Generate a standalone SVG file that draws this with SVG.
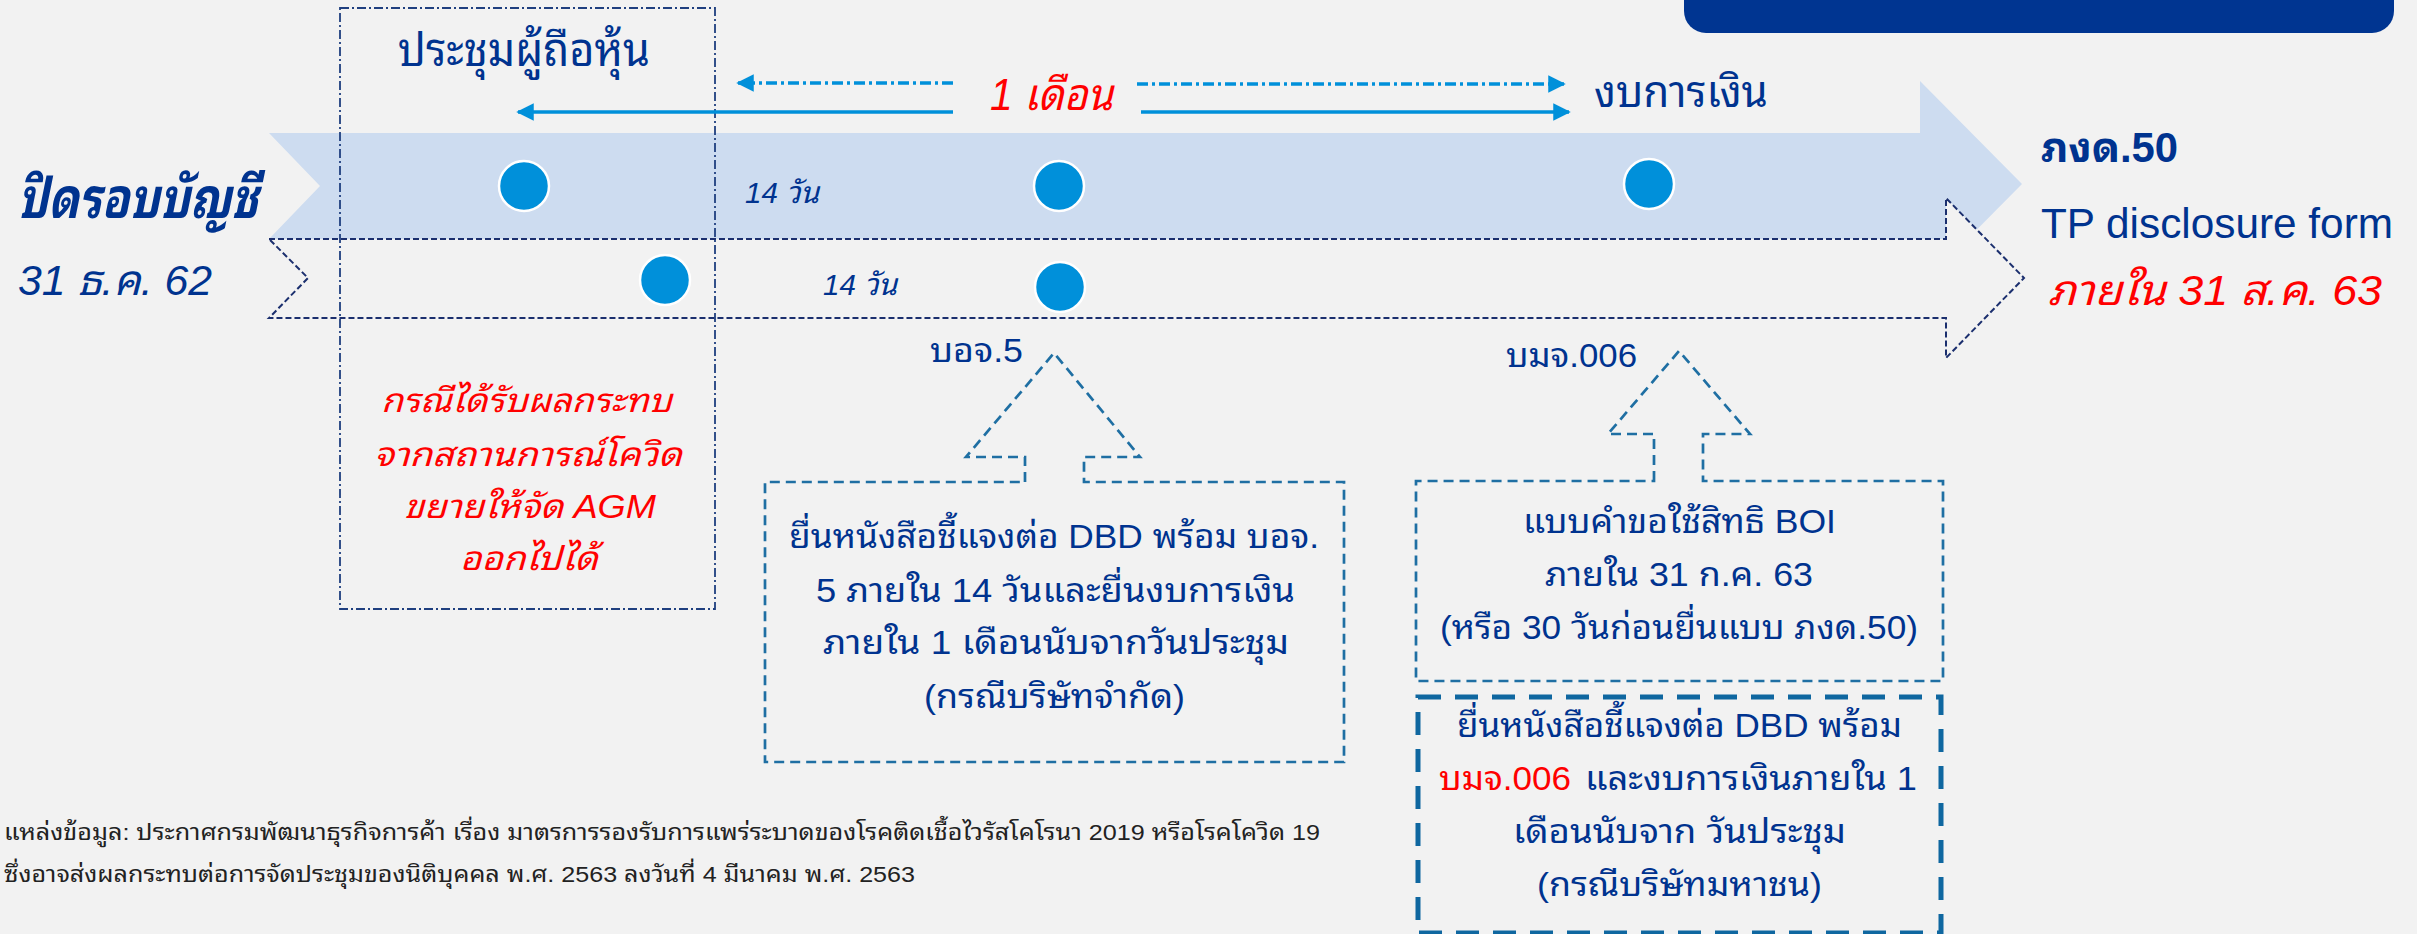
<svg xmlns="http://www.w3.org/2000/svg" width="2417" height="934" viewBox="0 0 2417 934">
<defs>
<style>
.th{font-family:'Liberation Sans','Noto Sans Thai Looped','Noto Sans Thai',sans-serif;}
.navy{fill:#00338f;}
.red{fill:#ff0000;}
.it{font-style:italic;}
.dot{fill:#0090da;stroke:#ffffff;stroke-width:2.5;}
.callout{fill:none;stroke:#1f6fa3;stroke-width:2.7;stroke-dasharray:10 6;}
.arr{stroke:#0090da;stroke-width:3.5;fill:none;}
.arrdd{stroke:#0090da;stroke-width:3.5;fill:none;stroke-dasharray:11 4 3 4;}
</style>
<marker id="ah" viewBox="0 0 10 10" refX="9" refY="5" markerWidth="5" markerHeight="5" orient="auto-start-reverse" markerUnits="strokeWidth">
<path d="M0,0 L10,5 L0,10 z" fill="#0090da"/>
</marker>
</defs>
<rect x="0" y="0" width="2417" height="934" fill="#f2f2f2"/>
<rect id="topbar" x="1684" y="-40" width="710" height="73" rx="22" ry="22" fill="#003591"/>

<g id="timeline">
<polygon points="269,133 1920,133 1920,81 2022,184 1920,287 1920,239 269,239 320,186" fill="#cddcf0"/>
<polygon points="269,239 1946,239 1946,198 2024,278 1946,358 1946,318 269,318 308,278" fill="#f2f2f2" stroke="#1b2f6e" stroke-width="2" stroke-dasharray="6 3"/>
</g>

<g id="meeting">
<rect x="340" y="8" width="375" height="601" fill="none" stroke="#1f3f7f" stroke-width="1.8" stroke-dasharray="9 3 2 3"/>
<text class="th navy" x="398" y="66" font-size="46" textLength="252" lengthAdjust="spacingAndGlyphs">ประชุมผู้ถือหุ้น</text>
<g class="th red it" font-size="33">
<text x="381" y="412" textLength="291" lengthAdjust="spacingAndGlyphs">กรณีได้รับผลกระทบ</text>
<text x="374" y="466" textLength="308" lengthAdjust="spacingAndGlyphs">จากสถานการณ์โควิด</text>
<text x="404" y="518" textLength="252" lengthAdjust="spacingAndGlyphs">ขยายให้จัด AGM</text>
<text x="460" y="570" textLength="138" lengthAdjust="spacingAndGlyphs">ออกไปได้</text>
</g>
</g>

<g id="connectors">
<line class="arrdd" x1="953" y1="83" x2="738" y2="83" marker-end="url(#ah)"/>
<line class="arr" x1="953" y1="112" x2="518" y2="112" marker-end="url(#ah)"/>
<line class="arrdd" x1="1137" y1="84" x2="1564" y2="84" marker-end="url(#ah)"/>
<line class="arr" x1="1141" y1="112" x2="1569" y2="112" marker-end="url(#ah)"/>
</g>

<g id="month-label"><text class="th red it" x="990" y="110" font-size="44" textLength="123" lengthAdjust="spacingAndGlyphs">1 เดือน</text></g>

<g id="dots">
<circle class="dot" cx="524" cy="186" r="25"/>
<circle class="dot" cx="665" cy="280" r="25"/>
<circle class="dot" cx="1059" cy="186" r="25"/>
<circle class="dot" cx="1060" cy="287" r="25"/>
<circle class="dot" cx="1649" cy="184" r="25"/>
</g>

<g id="days1"><text class="th navy it" x="745" y="203" font-size="30" textLength="74" lengthAdjust="spacingAndGlyphs">14 วัน</text></g>
<g id="days2"><text class="th navy it" x="823" y="295" font-size="30" textLength="74" lengthAdjust="spacingAndGlyphs">14 วัน</text></g>

<g id="close"><text class="th navy it" x="18" y="218" font-size="56" font-weight="bold" textLength="240" lengthAdjust="spacingAndGlyphs">ปิดรอบบัญชี</text>
<text class="th navy it" x="18" y="295" font-size="42" textLength="194" lengthAdjust="spacingAndGlyphs">31 ธ.ค. 62</text></g>

<g id="fs"><text class="th navy" x="1594" y="107" font-size="44" textLength="174" lengthAdjust="spacingAndGlyphs">งบการเงิน</text></g>

<g id="deadline">
<text class="th navy" x="2041" y="162" font-size="42" font-weight="bold" textLength="137" lengthAdjust="spacingAndGlyphs">ภงด.50</text>
<text class="th navy" x="2041" y="238" font-size="42" textLength="352" lengthAdjust="spacingAndGlyphs">TP disclosure form</text>
<text class="th red it" x="2048" y="305" font-size="42" textLength="334" lengthAdjust="spacingAndGlyphs">ภายใน 31 ส.ค. 63</text>
</g>

<g id="boj5">
<text class="th navy" x="930" y="362" font-size="33" textLength="93" lengthAdjust="spacingAndGlyphs">บอจ.5</text>
<path class="callout" d="M1025,482 L1025,457 L966,457 L1054,353 L1140,457 L1084,457 L1084,482 L1344,482 L1344,762 L765,762 L765,482 Z"/>
<g class="th navy" font-size="33">
<text x="789" y="548" textLength="530" lengthAdjust="spacingAndGlyphs">ยื่นหนังสือชี้แจงต่อ DBD พร้อม บอจ.</text>
<text x="816" y="602" textLength="479" lengthAdjust="spacingAndGlyphs">5 ภายใน 14 วันและยื่นงบการเงิน</text>
<text x="823" y="654" textLength="466" lengthAdjust="spacingAndGlyphs">ภายใน 1 เดือนนับจากวันประชุม</text>
<text x="924" y="708" textLength="261" lengthAdjust="spacingAndGlyphs">(กรณีบริษัทจำกัด)</text>
</g>
</g>

<g id="bmj006">
<text class="th navy" x="1506" y="367" font-size="33" textLength="131" lengthAdjust="spacingAndGlyphs">บมจ.006</text>
<path class="callout" d="M1654,481 L1654,434 L1608,434 L1679,351 L1750,434 L1703,434 L1703,481 L1943,481 L1943,681 L1416,681 L1416,481 Z"/>
<g class="th navy" font-size="33">
<text x="1523" y="533" textLength="313" lengthAdjust="spacingAndGlyphs">แบบคำขอใช้สิทธิ BOI</text>
<text x="1545" y="586" textLength="268" lengthAdjust="spacingAndGlyphs">ภายใน 31 ก.ค. 63</text>
<text x="1440" y="639" textLength="478" lengthAdjust="spacingAndGlyphs">(หรือ 30 วันก่อนยื่นแบบ ภงด.50)</text>
</g>
</g>

<g id="public">
<rect x="1418" y="697" width="523" height="236" fill="none" stroke="#0f67a0" stroke-width="5" stroke-dasharray="23 14"/>
<g class="th navy" font-size="33">
<text x="1457" y="737" textLength="445" lengthAdjust="spacingAndGlyphs">ยื่นหนังสือชี้แจงต่อ DBD พร้อม</text>
<text class="red" x="1439" y="790" textLength="132" lengthAdjust="spacingAndGlyphs">บมจ.006</text>
<text x="1585" y="790" textLength="332" lengthAdjust="spacingAndGlyphs">และงบการเงินภายใน 1</text>
<text x="1513" y="843" textLength="333" lengthAdjust="spacingAndGlyphs">เดือนนับจาก วันประชุม</text>
<text x="1537" y="896" textLength="285" lengthAdjust="spacingAndGlyphs">(กรณีบริษัทมหาชน)</text>
</g>
</g>

<g id="source" class="th" font-size="22" fill="#222222">
<text x="4" y="840" textLength="1316" lengthAdjust="spacingAndGlyphs">แหล่งข้อมูล: ประกาศกรมพัฒนาธุรกิจการค้า เรื่อง มาตรการรองรับการแพร่ระบาดของโรคติดเชื้อไวรัสโคโรนา 2019 หรือโรคโควิด 19</text>
<text x="4" y="882" textLength="911" lengthAdjust="spacingAndGlyphs">ซึ่งอาจส่งผลกระทบต่อการจัดประชุมของนิติบุคคล พ.ศ. 2563 ลงวันที่ 4 มีนาคม พ.ศ. 2563</text>
</g>
</svg>
